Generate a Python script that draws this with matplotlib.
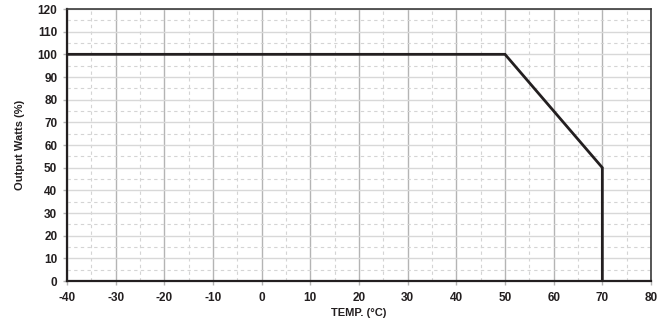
import matplotlib
matplotlib.use('Agg')
import matplotlib.pyplot as plt
from matplotlib.ticker import MultipleLocator

plt.rcParams['font.family'] = ['Liberation Sans', 'DejaVu Sans']
plt.rcParams['axes.unicode_minus'] = False

# derating curve
temp = [-40, 50, 70, 70]
watts = [100, 100, 50, 0]

x_ticks = list(range(-40, 81, 10))
y_ticks = list(range(0, 121, 10))

fig = plt.figure(figsize=(6.66, 3.22), dpi=100)
ax = fig.add_axes([67 / 666, 1 - 281 / 322, (651 - 67) / 666, (281 - 9) / 322])

ax.set_xlim(-40, 80)
ax.set_ylim(0, 120)
ax.set_xticks(x_ticks)
ax.set_yticks(y_ticks)
ax.xaxis.set_minor_locator(MultipleLocator(5))
ax.yaxis.set_minor_locator(MultipleLocator(5))

# grid
ax.grid(axis='x', which='major', color='#b4b4b4', linewidth=1.0)
ax.grid(axis='y', which='major', color='#d8d8d8', linewidth=1.0)
ax.grid(which='minor', color='#d4d4d4', linewidth=0.8, linestyle=(0, (3, 3)))
ax.set_axisbelow(True)

ax.plot(temp, watts, color='#231f20', linewidth=2.0, solid_joinstyle='miter', zorder=3)

for side in ['left', 'bottom']:
    ax.spines[side].set_linewidth(1.6)
    ax.spines[side].set_color('#231f20')
for side in ['top', 'right']:
    ax.spines[side].set_linewidth(1.2)
    ax.spines[side].set_color('#3a3a3a')

ax.tick_params(which='major', length=3, width=1, color='#b4b4b4', labelsize=8.5, labelcolor='#231f20')
ax.tick_params(axis='x', which='major', pad=5)
ax.tick_params(axis='y', which='major', pad=4)
ax.tick_params(which='minor', length=0)
for lbl in ax.get_xticklabels() + ax.get_yticklabels():
    lbl.set_fontweight('bold')

ax.set_xlabel('TEMP. (°C)', fontsize=8, fontweight='bold', labelpad=3, color='#231f20')
ax.set_ylabel('Output Watts (%)', fontsize=8, fontweight='bold', labelpad=9, color='#231f20')

fig.savefig('out.png', dpi=100)
